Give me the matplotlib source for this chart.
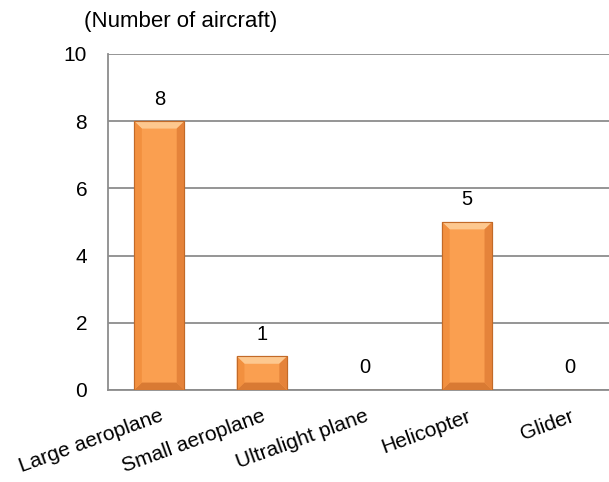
import matplotlib.pyplot as plt
from matplotlib.patches import Polygon

plt.rcParams['font.family'] = ['Liberation Sans', 'DejaVu Sans']

categories = ['Large aeroplane', 'Small aeroplane', 'Ultralight plane', 'Helicopter', 'Glider']
counts = [8, 1, 0, 5, 0]
y_ticks = [0, 2, 4, 6, 8, 10]

fig = plt.figure(figsize=(6.09, 4.82), dpi=100)
ax = fig.add_axes([0.1773, 0.1909, 0.8424, 0.6971])

x = list(range(len(categories)))
bar_width = 0.49
bars = ax.bar(x, counts, width=bar_width, color='#FA9F50', edgecolor='#C26A28',
              linewidth=0.8, zorder=3)

# bevelled look: light top edge, dark bottom edge, shaded sides
bx, by = 0.075, 0.22
for rect in bars:
    x0 = rect.get_x()
    x1 = x0 + rect.get_width()
    h = rect.get_height()
    if h <= 0:
        continue
    bb = min(by, h / 3)
    faces = [
        ([(x0, h), (x1, h), (x1 - bx, h - bb), (x0 + bx, h - bb)], '#FDC88F'),
        ([(x0, 0), (x1, 0), (x1 - bx, bb), (x0 + bx, bb)], '#D97A33'),
        ([(x0, 0), (x0, h), (x0 + bx, h - bb), (x0 + bx, bb)], '#F2903F'),
        ([(x1, 0), (x1, h), (x1 - bx, h - bb), (x1 - bx, bb)], '#E5833A'),
    ]
    for pts, c in faces:
        ax.add_patch(Polygon(pts, closed=True, facecolor=c, edgecolor='none', zorder=4))
    ax.add_patch(Polygon([(x0, 0), (x1, 0), (x1, h), (x0, h)], closed=True,
                         facecolor='none', edgecolor='#C26A28', linewidth=0.8, zorder=5))

for xi, v in zip(x, counts):
    ax.annotate(str(v), (xi, v), xytext=(0, 9), textcoords='offset points',
                ha='center', va='bottom', fontsize=14.5)

ax.set_xlim(-0.5, len(categories) - 0.5)
ax.set_ylim(0, 10)
ax.set_yticks(y_ticks)
ax.set_xticks(x)
ax.set_xticklabels(categories, rotation=20, ha='right', va='top',
                   rotation_mode='anchor', fontsize=15)
ax.tick_params(axis='y', length=0, pad=15, labelsize=15)
ax.tick_params(axis='x', length=0, pad=12)

ax.yaxis.grid(True, color='#8C8C8C', linewidth=1.3, zorder=0)
ax.set_axisbelow(True)
for side in ['top', 'right']:
    ax.spines[side].set_visible(False)
for side in ['left', 'bottom']:
    ax.spines[side].set_color('#8C8C8C')
    ax.spines[side].set_linewidth(1.3)

fig.text(0.296, 0.955, '(Number of aircraft)', ha='center', va='center', fontsize=16)

fig.savefig('out.png', dpi=100)
